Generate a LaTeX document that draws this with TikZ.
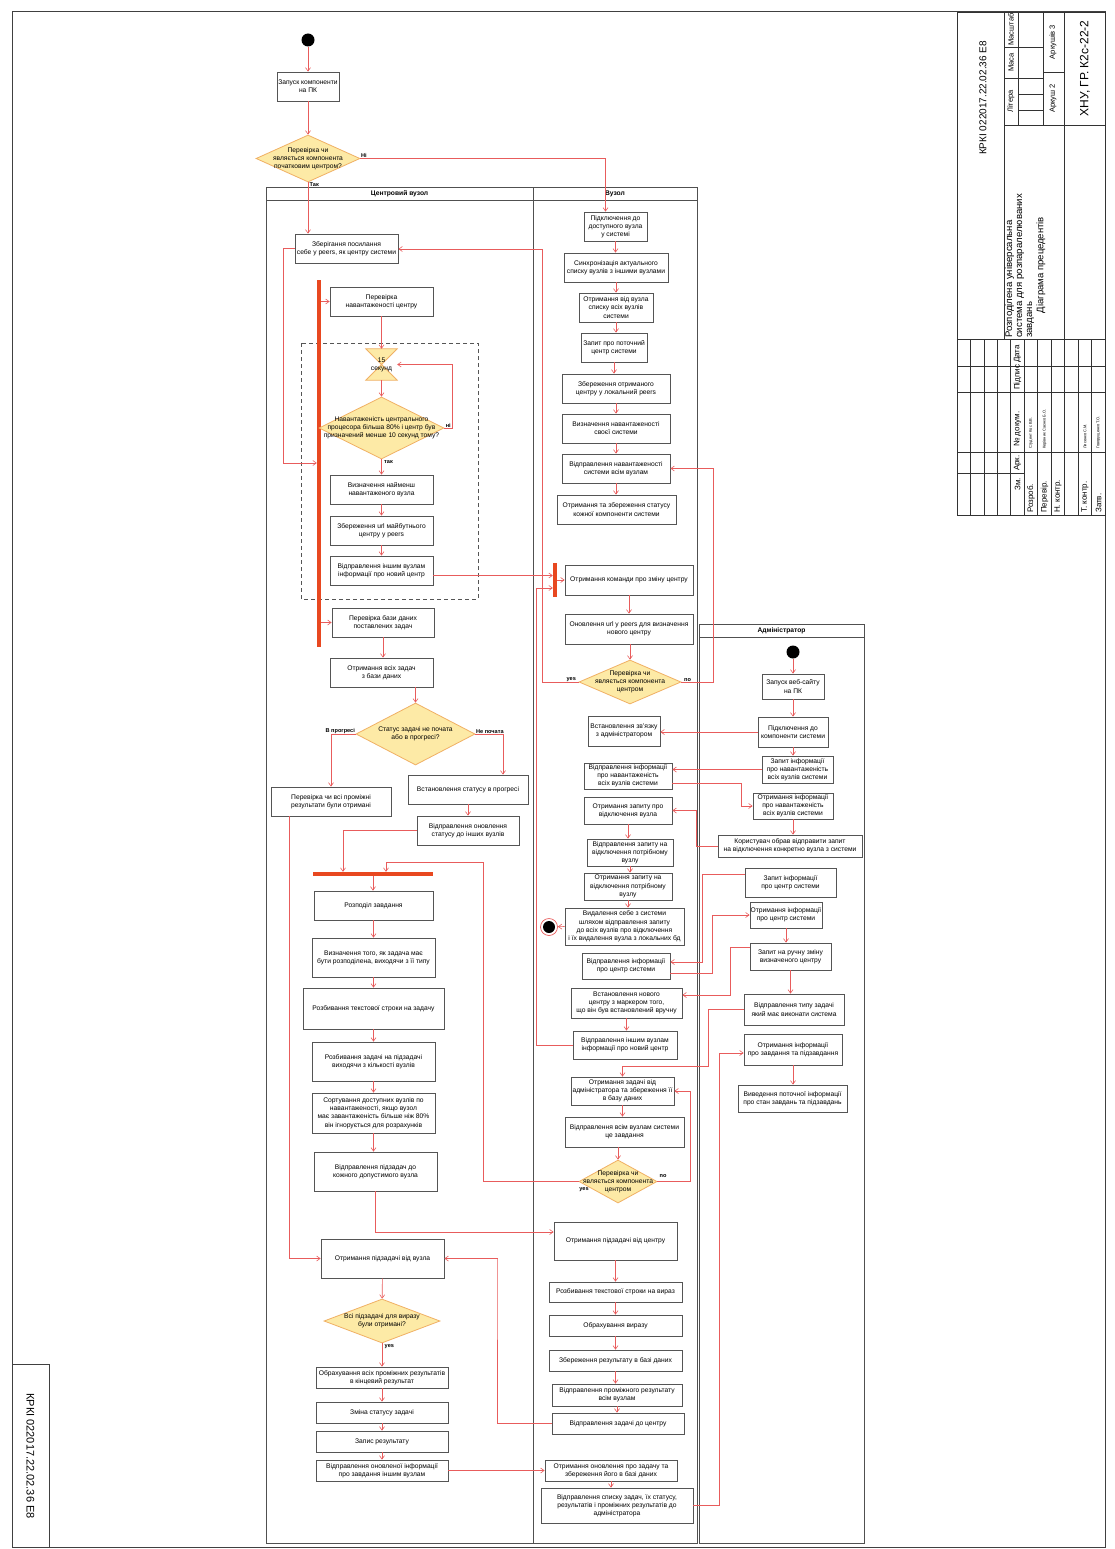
\documentclass[tikz,border=0pt]{standalone}
\usepackage{fontspec}
\setmainfont{Liberation Sans}
\usetikzlibrary{shapes.geometric,arrows.meta}
\definecolor{linec}{RGB}{232,92,92}
\definecolor{boxc}{RGB}{85,85,85}
\definecolor{lanec}{RGB}{80,80,80}
\definecolor{diaf}{RGB}{253,234,166}
\definecolor{diac}{RGB}{240,176,100}
\definecolor{barc}{RGB}{232,72,32}
\newcommand\df{\fontsize{6.7}{8.2}\selectfont}
\newcommand\lf{\fontsize{5.6}{6.5}\selectfont\bfseries}
% box given by its corners: name, x1, y1, x2, y2, text
\newcommand{\bx}[6]{\node[box, minimum width={(#4)-(#2)}, minimum height={(#5)-(#3)}] (#1) at ({((#2)+(#4))/2},{((#3)+(#5))/2}) {#6};}
% decision diamond given by its corners
\newcommand{\dm}[6]{\node[dia, minimum width={(#4)-(#2)}, minimum height={(#5)-(#3)}] (#1) at ({((#2)+(#4))/2},{((#3)+(#5))/2}) {};
  \node[font=\df, align=center, inner sep=0pt] at (#1) {#6};}
% straight arrow down from one node to the next
\newcommand{\dn}[2]{\draw[conn] (#1.south) -- (#1.south |- #2.north);}
\begin{document}
\begin{tikzpicture}[x=1pt,y=-1pt,
  box/.style={draw=boxc, line width=0.8pt, fill=white, align=center, font=\df, inner sep=0.5pt},
  dia/.style={diamond, draw=diac, fill=diaf, line width=0.8pt, inner sep=0pt},
  conn/.style={draw=linec, line width=0.6pt, -{Straight Barb[length=3.5pt,width=5pt]}},
  bar/.style={fill=barc, inner sep=0pt},
  lane/.style={draw=lanec, line width=0.8pt},
  lhead/.style={font=\fontsize{6.7}{8}\selectfont\bfseries, inner sep=0pt},
  lbl/.style={font=\lf, inner sep=0.5pt},
  frame/.style={draw=black!75, line width=1pt},
  tb/.style={draw=black!80, line width=0.7pt},
  tt/.style={rotate=90, inner sep=0pt},
]
\useasboundingbox (0,0) rectangle (1114,1549);
\fill[white] (0,0) rectangle (1114,1549);

% sheet frame and side code box
\draw[frame] (12,12) rectangle (1105,1547);
\draw[frame] (12,1364) rectangle (49,1547);
\node[rotate=-90, font=\fontsize{11}{12}\selectfont] (codeL) at (30.5,1456) {КРКІ 022017.22.02.36 Е8};

% swimlanes
\draw[lane] (266,187) rectangle (533,1543);
\draw[lane] (266,200) -- (533,200);
\node[lhead] (h1) at (399.5,193.5) {Центровий вузол};
\draw[lane] (533,187) rectangle (697,1543);
\draw[lane] (533,200) -- (697,200);
\node[lhead] (h2) at (615,193.5) {Вузол};
\draw[lane] (699,624) rectangle (864,1543);
\draw[lane] (699,637) -- (864,637);
\node[lhead] (h3) at (781.5,630.5) {Адміністратор};

% loop region of the load check
\draw[draw=boxc, line width=0.7pt, dash pattern=on 4pt off 3pt] (301,343) rectangle (478,599);

% ---------- central node ----------
\node[circle, fill=black, minimum size=13pt, inner sep=0pt] (s0) at (308,40) {};
\bx{n1}{277}{72}{339}{101}{Запуск компоненти\\на ПК}
\dm{d2}{256}{135}{360}{182}{Перевірка чи\\являється компонента\\початковим центром?}
\bx{n3}{295}{234}{398}{263}{Зберігання посилання\\себе у peers, як центру системи}
\node[bar, minimum width=4pt, minimum height=367pt] (bar1) at (319,463.5) {};
\bx{n4}{330}{287}{433}{316}{Перевірка\\навантаженості центру}
\node[minimum width=31pt, minimum height=31pt, inner sep=0pt] (hg) at (381.5,364.5) {};
\filldraw[draw=diac, fill=diaf, line width=0.8pt] (hg.north west) -- (hg.north east) -- (hg.center) -- cycle
  (hg.south west) -- (hg.south east) -- (hg.center) -- cycle;
\node[font=\df, align=center, inner sep=0pt] at (hg) {15\\секунд};
\dm{d6}{319}{397}{444}{459}{Навантаженість центрального\\процесора більша 80\% і центр був\\призначений менше 10 секунд тому?}
\bx{n7}{330}{475}{433}{504}{Визначення найменш\\навантаженого вузла}
\bx{n8}{330}{516}{433}{545}{Збереження url майбутнього\\центру у peers}
\bx{n9}{330}{556}{433}{585}{Відправлення іншим вузлам\\інформації про новий центр}
\bx{n10}{332}{608}{434}{637}{Перевірка бази даних\\поставлених задач}
\bx{n11}{330}{658}{433}{687}{Отримання всіх задач\\з бази даних}
\dm{d12}{356}{703}{475}{765}{Статус задачі не почата\\або в прогресі?}
\bx{n13}{271}{787}{391}{816}{Перевірка чи всі проміжні\\результати були отримані}
\bx{n14}{408}{775}{528}{804}{Встановлення статусу в прогресі}
\bx{n15}{417}{816}{519}{845}{Відправлення оновлення\\статусу до інших вузлів}
\node[bar, minimum width=120pt, minimum height=4pt] (bar3) at (373,874) {};
\bx{n16}{314}{891}{433}{920}{Розподіл завдання}
\bx{n17}{312}{938}{435}{977}{Визначення того, як задача має\\бути розподілена, виходячи з її типу}
\bx{n18}{303}{988}{444}{1029}{Розбивання текстової строки на задачу}
\bx{n19}{312}{1042}{435}{1081}{Розбивання задачі на підзадачі\\виходячи з кількості вузлів}
\bx{n20}{312}{1093}{435}{1133}{Сортування доступних вузлів по\\навантаженості, якщо вузол\\має завантаженість більше ніж 80\%\\він ігнорується для розрахунків}
\bx{n21}{314}{1152}{437}{1191}{Відправлення підзадач до\\кожного допустимого вузла}
\bx{n22}{321}{1239}{444}{1278}{Отримання підзадачі від вузла}
\dm{d23}{324}{1299}{440}{1343}{Всі підзадачі для виразу\\були отримані?}
\bx{n24}{316}{1367}{448}{1388}{Обрахування всіх проміжних результатів\\в кінцевий результат}
\bx{n25}{316}{1402}{448}{1423}{Зміна статусу задачі}
\bx{n26}{316}{1431}{448}{1452}{Запис результату}
\bx{n27}{316}{1460}{448}{1481}{Відправлення оновленої інформації\\про завдання іншим вузлам}

% ---------- node ----------
\bx{n28}{584}{212}{647}{241}{Підключення до\\доступного вузла\\у системі}
\bx{n29}{564}{253}{668}{282}{Синхронізація актуального\\списку вузлів з іншими вузлами}
\bx{n30}{579}{293}{653}{322}{Отримання від вузла\\списку всіх вузлів\\системи}
\bx{n31}{581}{333}{647}{362}{Запит про поточний\\центр системи}
\bx{n32}{562}{374}{670}{403}{Збереження отриманого\\центру у локальний peers}
\bx{n33}{562}{414}{670}{443}{Визначення навантаженості\\своєї системи}
\bx{n34}{562}{454}{670}{483}{Відправлення навантаженості\\системи всім вузлам}
\bx{n35}{557}{495}{676}{524}{Отримання та збереження статусу\\кожної компоненти системи}
\node[bar, minimum width=4pt, minimum height=34pt] (bar2) at (555,580) {};
\bx{n36}{565}{565}{693}{595}{Отримання команди про зміну центру}
\bx{n37}{565}{614}{693}{644}{Оновлення url у peers для визначення\\нового центру}
\dm{d38}{579}{660}{681}{704}{Перевірка чи\\являється компонента\\центром}
\bx{n39}{588}{716}{660}{746}{Встановлення зв'язку\\з адміністратором}
\bx{n40}{584}{763}{672}{789}{Відправлення інформації\\про навантаженість\\всіх вузлів системи}
\bx{n41}{584}{797}{672}{824}{Отримання запиту про\\відключення вузла}
\bx{n42}{587}{839}{673}{866}{Відправлення запиту на\\відключення потрібному\\вузлу}
\bx{n43}{584}{873}{672}{900}{Отримання запиту на\\відключення потрібному\\вузлу}
\bx{n44}{565}{908}{684}{945}{Видалення себе з системи\\шляхом відправлення запиту\\до всіх вузлів про відключення\\і їх видалення вузла з локальних бд}
\node[circle, draw=linec, line width=0.7pt, minimum size=17pt, inner sep=0pt] (e1) at (549,927) {};
\fill[black] (e1.center) circle (6pt);
\bx{n45}{582}{953}{670}{979}{Відправлення інформації\\про центр системи}
\bx{n46}{571}{988}{682}{1018}{Встановлення нового\\центру з маркером того,\\що він був встановлений вручну}
\bx{n47}{573}{1031}{677}{1059}{Відправлення іншим вузлам\\інформації про новий центр}
\bx{n48}{571}{1077}{674}{1105}{Отримання задачі від\\адміністратора та збереження її\\в базу даних}
\bx{n49}{565}{1117}{684}{1147}{Відправлення всім вузлам системи\\це завдання}
\dm{d50}{579}{1160}{657}{1203}{Перевірка чи\\являється компонента\\центром}
\bx{n51}{554}{1222}{677}{1260}{Отримання підзадачі від центру}
\bx{n52}{549}{1282}{682}{1302}{Розбивання текстової строки на вираз}
\bx{n53}{549}{1315}{682}{1336}{Обрахування виразу}
\bx{n54}{549}{1350}{682}{1371}{Збереження результату в базі даних}
\bx{n55}{552}{1384}{682}{1406}{Відправлення проміжного результату\\всім вузлам}
\bx{n56}{552}{1413}{684}{1434}{Відправлення задачі до центру}
\bx{n57}{545}{1460}{677}{1481}{Отримання оновлення про задачу та\\збереження його в базі даних}
\bx{n58}{541}{1488}{693}{1523}{Відправлення списку задач, їх статусу,\\результатів і проміжних результатів до\\адміністратора}

% ---------- administrator ----------
\node[circle, fill=black, minimum size=13pt, inner sep=0pt] (s1) at (793,652) {};
\bx{n59}{762}{674}{824}{699}{Запуск веб-сайту\\на ПК}
\bx{n60}{758}{717}{828}{747}{Підключення до\\компоненти системи}
\bx{n61}{762}{756}{833}{783}{Запит інформації\\про навантаженість\\всіх вузлів системи}
\bx{n62}{753}{793}{833}{819}{Отримання інформації\\про навантаженість\\всіх вузлів системи}
\bx{n63}{718}{835}{862}{857}{Користувач обрав відправити запит\\на відключення конкретно вузла з системи}
\bx{n64}{745}{868}{836}{897}{Запит інформації\\про центр системи}
\bx{n65}{750}{902}{822}{928}{Отримання інформації\\про центр системи}
\bx{n66}{750}{943}{831}{970}{Запит на ручну зміну\\визначеного центру}
\bx{n67}{744}{994}{844}{1025}{Відправлення типу задачі\\який має виконати система}
\bx{n68}{744}{1034}{842}{1065}{Отримання інформації\\про завдання та підзавдання}
\bx{n69}{738}{1085}{847}{1112}{Виведення поточної інформації\\про стан завдань та підзавдань}

% ---------- bend points ----------
\coordinate (k1) at (283,463);
\coordinate (k2) at (452,0);
\coordinate (k3) at (483,862);
\coordinate (k4) at (497,1258);
\coordinate (k5) at (542,249);
\coordinate (k6) at (713,0);
\coordinate (k7) at (741,0);
\coordinate (k8) at (696,0);
\coordinate (k9) at (702,0);
\coordinate (k10) at (712,0);
\coordinate (k11) at (730,0);
\coordinate (k12) at (708,1066);
\coordinate (k13) at (536,588);
\coordinate (k14) at (690,0);
\coordinate (k15) at (719,0);
\coordinate (p45a) at ([yshift=4pt]n45.east);
\coordinate (p45b) at ([yshift=-7pt]n45.east);
\coordinate (p64) at ([yshift=8pt]n64.west);
\coordinate (p66) at ([yshift=9.5pt]n66.west);
\coordinate (p46) at ([yshift=8pt]n46.east);
\coordinate (p68) at ([yshift=-3.5pt]n68.west);
\coordinate (p40) at ([yshift=-7pt]n40.east);

% ---------- flows: central node ----------
\draw[conn] (s0) -- (n1);
\draw[conn] (n1) -- (d2);
\draw[conn] (d2.east) -| ([xshift=-10pt]n28.north);
\node[lbl, anchor=south west] at (d2.east) {Ні};
\draw[conn] (d2.south) -- (d2.south |- n3.north);
\node[lbl, anchor=north west] at ([xshift=1pt]d2.south) {Так};
\draw[conn] (n3.west) -| (k1) -- (k1 -| bar1.west);
\draw[conn] (bar1.east |- n4) -- (n4.west);
\draw[conn] (n4) -- (hg);
\draw[conn] (hg) -- (d6);
\draw[conn] (d6.east) -| (k2 |- hg.east) -- (hg.east);
\node[lbl, anchor=south east] at ([xshift=7pt]d6.east) {ні};
\draw[conn] (d6) -- (n7);
\node[lbl, anchor=north west] at ([xshift=2pt]d6.south) {так};
\dn{n7}{n8}
\dn{n8}{n9}
\draw[conn] ([yshift=-5pt]n9.east) -- ([yshift=-5pt]n9.east -| bar2.west);
\draw[conn] (bar1.east |- n10) -- (n10.west);
\dn{n10}{n11}
\draw[conn] (d12.north |- n11.south) -- (d12.north);
\draw[conn] (d12.west) -| (n13.north);
\node[lbl, anchor=south east] at (d12.west) {В прогресі};
\draw[conn] (d12.east) -| ([xshift=35pt]n14.north);
\node[lbl, anchor=south west] at (d12.east) {Не почата};
\dn{n14}{n15}
\draw[conn] (n15.west) -| ([xshift=-30pt]bar3.north);
\draw[conn] (d50.west) -| (k3) -| ([xshift=13pt]bar3.north);
\node[lbl] at (584,1190) {yes};
\draw[conn] (bar3.south) -- (bar3.south |- n16.north);
\dn{n16}{n17}
\dn{n17}{n18}
\dn{n18}{n19}
\dn{n19}{n20}
\dn{n20}{n21}
\draw[conn] (n21.south) |- ([yshift=9pt]n51.west);
\draw[conn] ([xshift=-42pt]n13.south) |- (n22.west);
\draw[conn] (n56.west) -| (k4) |- (n22.east);
\draw[conn] (n22) -- (d23);
\draw[conn] (d23) -- (n24);
\node[lbl, anchor=north west] at ([xshift=2pt]d23.south) {yes};
\dn{n24}{n25}
\dn{n25}{n26}
\dn{n26}{n27}
\draw[conn] (n27.east) -- (n27.east -| n57.west);

% ---------- flows: node ----------
\dn{n28}{n29}
\dn{n29}{n30}
\dn{n30}{n31}
\dn{n31}{n32}
\dn{n32}{n33}
\dn{n33}{n34}
\dn{n34}{n35}
\draw[conn] (bar2.east |- n36) -- (n36.west);
\dn{n36}{n37}
\draw[conn] (d38.north |- n37.south) -- (d38.north);
\draw[conn] (d38.west) -| (k5) -- (k5 -| n3.east);
\node[lbl, anchor=south east] at ([xshift=-2pt]d38.west) {yes};
\draw[conn] (d38.east) -| (k6 |- n34.east) -- (n34.east);
\node[lbl, anchor=south west] at ([xshift=2pt]d38.east) {no};
\draw[conn] (n60.west) -- (n60.west -| n39.east);
\draw[conn] (n61.west) -- (n61.west -| n40.east);
\draw[conn] (p40) -| (k7 |- n62.west) -- (n62.west);
\draw[conn] (n63.west) -| (k8 |- n41.east) -- (n41.east);
\dn{n41}{n42}
\dn{n42}{n43}
\dn{n43}{n44}
\draw[conn] (n44.west) -- (e1);
\draw[conn] (p64) -| (k9 |- p45a) -- (p45a);
\draw[conn] (p45b) -| (k10 |- n65.west) -- (n65.west);
\draw[conn] (p66) -| (k11 |- p46) -- (p46);
\dn{n46}{n47}
\draw[conn] (n67.west) -| (k12) -| (n48.north);
\draw[conn] (n47.west) -| (k13) -- (k13 -| bar2.west);
\dn{n48}{n49}
\draw[conn] (d50.north |- n49.south) -- (d50.north);
\draw[conn] (d50.east) -| (k14 |- n48.east) -- (n48.east);
\node[lbl] at (663,1176) {no};
\dn{n51}{n52}
\dn{n52}{n53}
\dn{n53}{n54}
\dn{n54}{n55}
\dn{n55}{n56}
\dn{n57}{n58}
\draw[conn] (n58.east) -| (k15 |- p68) -- (p68);

% ---------- flows: administrator ----------
\draw[conn] (s1) -- (s1 |- n59.north);
\dn{n59}{n60}
\dn{n60}{n61}
\dn{n62}{n63}
\dn{n65}{n66}
\dn{n66}{n67}
\dn{n68}{n69}

% ---------- title block ----------
\begin{scope}[tb]
\draw (957,12) rectangle (1105,515);
\foreach \r in {970.45,983.9,997.4,1010.8,1024.3,1037.7,1051.2,1064.6,1078.1,1091.5}
  \draw (\r,339) -- (\r,515);
\draw (1004,12) -- (1004,339);
\draw (1064.6,12) -- (1064.6,339);
\draw (1004,125) -- (1105,125);
\draw (1018,12) -- (1018,125);
\draw (1043,12) -- (1043,125);
\draw (1004,47) -- (1043,47);
\draw (1004,78) -- (1043,78);
\draw (1018,94) -- (1043,94);
\draw (1018,110) -- (1043,110);
\draw (1043,72) -- (1064.6,72);
\draw (957,339) -- (1105,339);
\draw (957,366) -- (1105,366);
\draw (957,392) -- (1105,392);
\draw (957,452) -- (1105,452);
\draw (957,473) -- (1024.3,473);
\end{scope}
\node[tt, font=\fontsize{10}{12}\selectfont] (tbcode) at (983,98) {КРКІ 022017.22.02.36 Е8};
\node[tt, anchor=north west, align=left, font=\fontsize{9.6}{10}\selectfont] (tbname) at (1005,338) {Розподілена універсальна\\система для розпаралелюваних\\завдань};
\node[tt, font=\fontsize{9.5}{10}\selectfont] (tbkind) at (1041,265) {Діаграма прецедентів};
\node[tt, font=\fontsize{7.5}{8}\selectfont] (tbm1) at (1011,29.5) {Масштаб};
\node[tt, font=\fontsize{7.5}{8}\selectfont] (tbm2) at (1011,62.5) {Маса};
\node[tt, font=\fontsize{7.5}{8}\selectfont] (tbm3) at (1011,101.5) {Літера};
\node[tt, font=\fontsize{7.5}{8}\selectfont] (tbs1) at (1053,98.5) {Аркуш 2};
\node[tt, font=\fontsize{7.5}{8}\selectfont] (tbs2) at (1053,42) {Аркушів 3};
\node[tt, font=\fontsize{12}{13}\selectfont] (tborg) at (1085,68.5) {ХНУ, ГР. К2с-22-2};
\begin{scope}[every node/.style={tt, anchor=west, font=\fontsize{8}{9}\selectfont}]
\node (t1) at (1017.5,491) {Зм.};
\node (t2) at (1017.5,471) {Арк.};
\node (t3) at (1017.5,447) {№ докум.};
\node (t4) at (1017.5,390) {Підпис};
\node (t5) at (1017.5,363) {Дата};
\node (t6) at (1031,513) {Розроб.};
\node (t7) at (1044.5,513) {Перевір.};
\node (t8) at (1058,513) {Н. контр.};
\node (t9) at (1085,513) {Т. контр.};
\node (t10) at (1098.5,513) {Затв.};
\end{scope}
\begin{scope}[every node/.style={tt, anchor=west, font=\fontsize{4}{5}\selectfont}]
\node (u1) at (1031,449) {Студент Кос В.В.};
\node (u2) at (1044.5,449) {Керівник Саєнко Б.О.};
\node (u3) at (1085,449) {Лисенко С.М.};
\node (u4) at (1098.5,449) {Говорущенко Т.О.};
\end{scope}
\end{tikzpicture}
\end{document}
